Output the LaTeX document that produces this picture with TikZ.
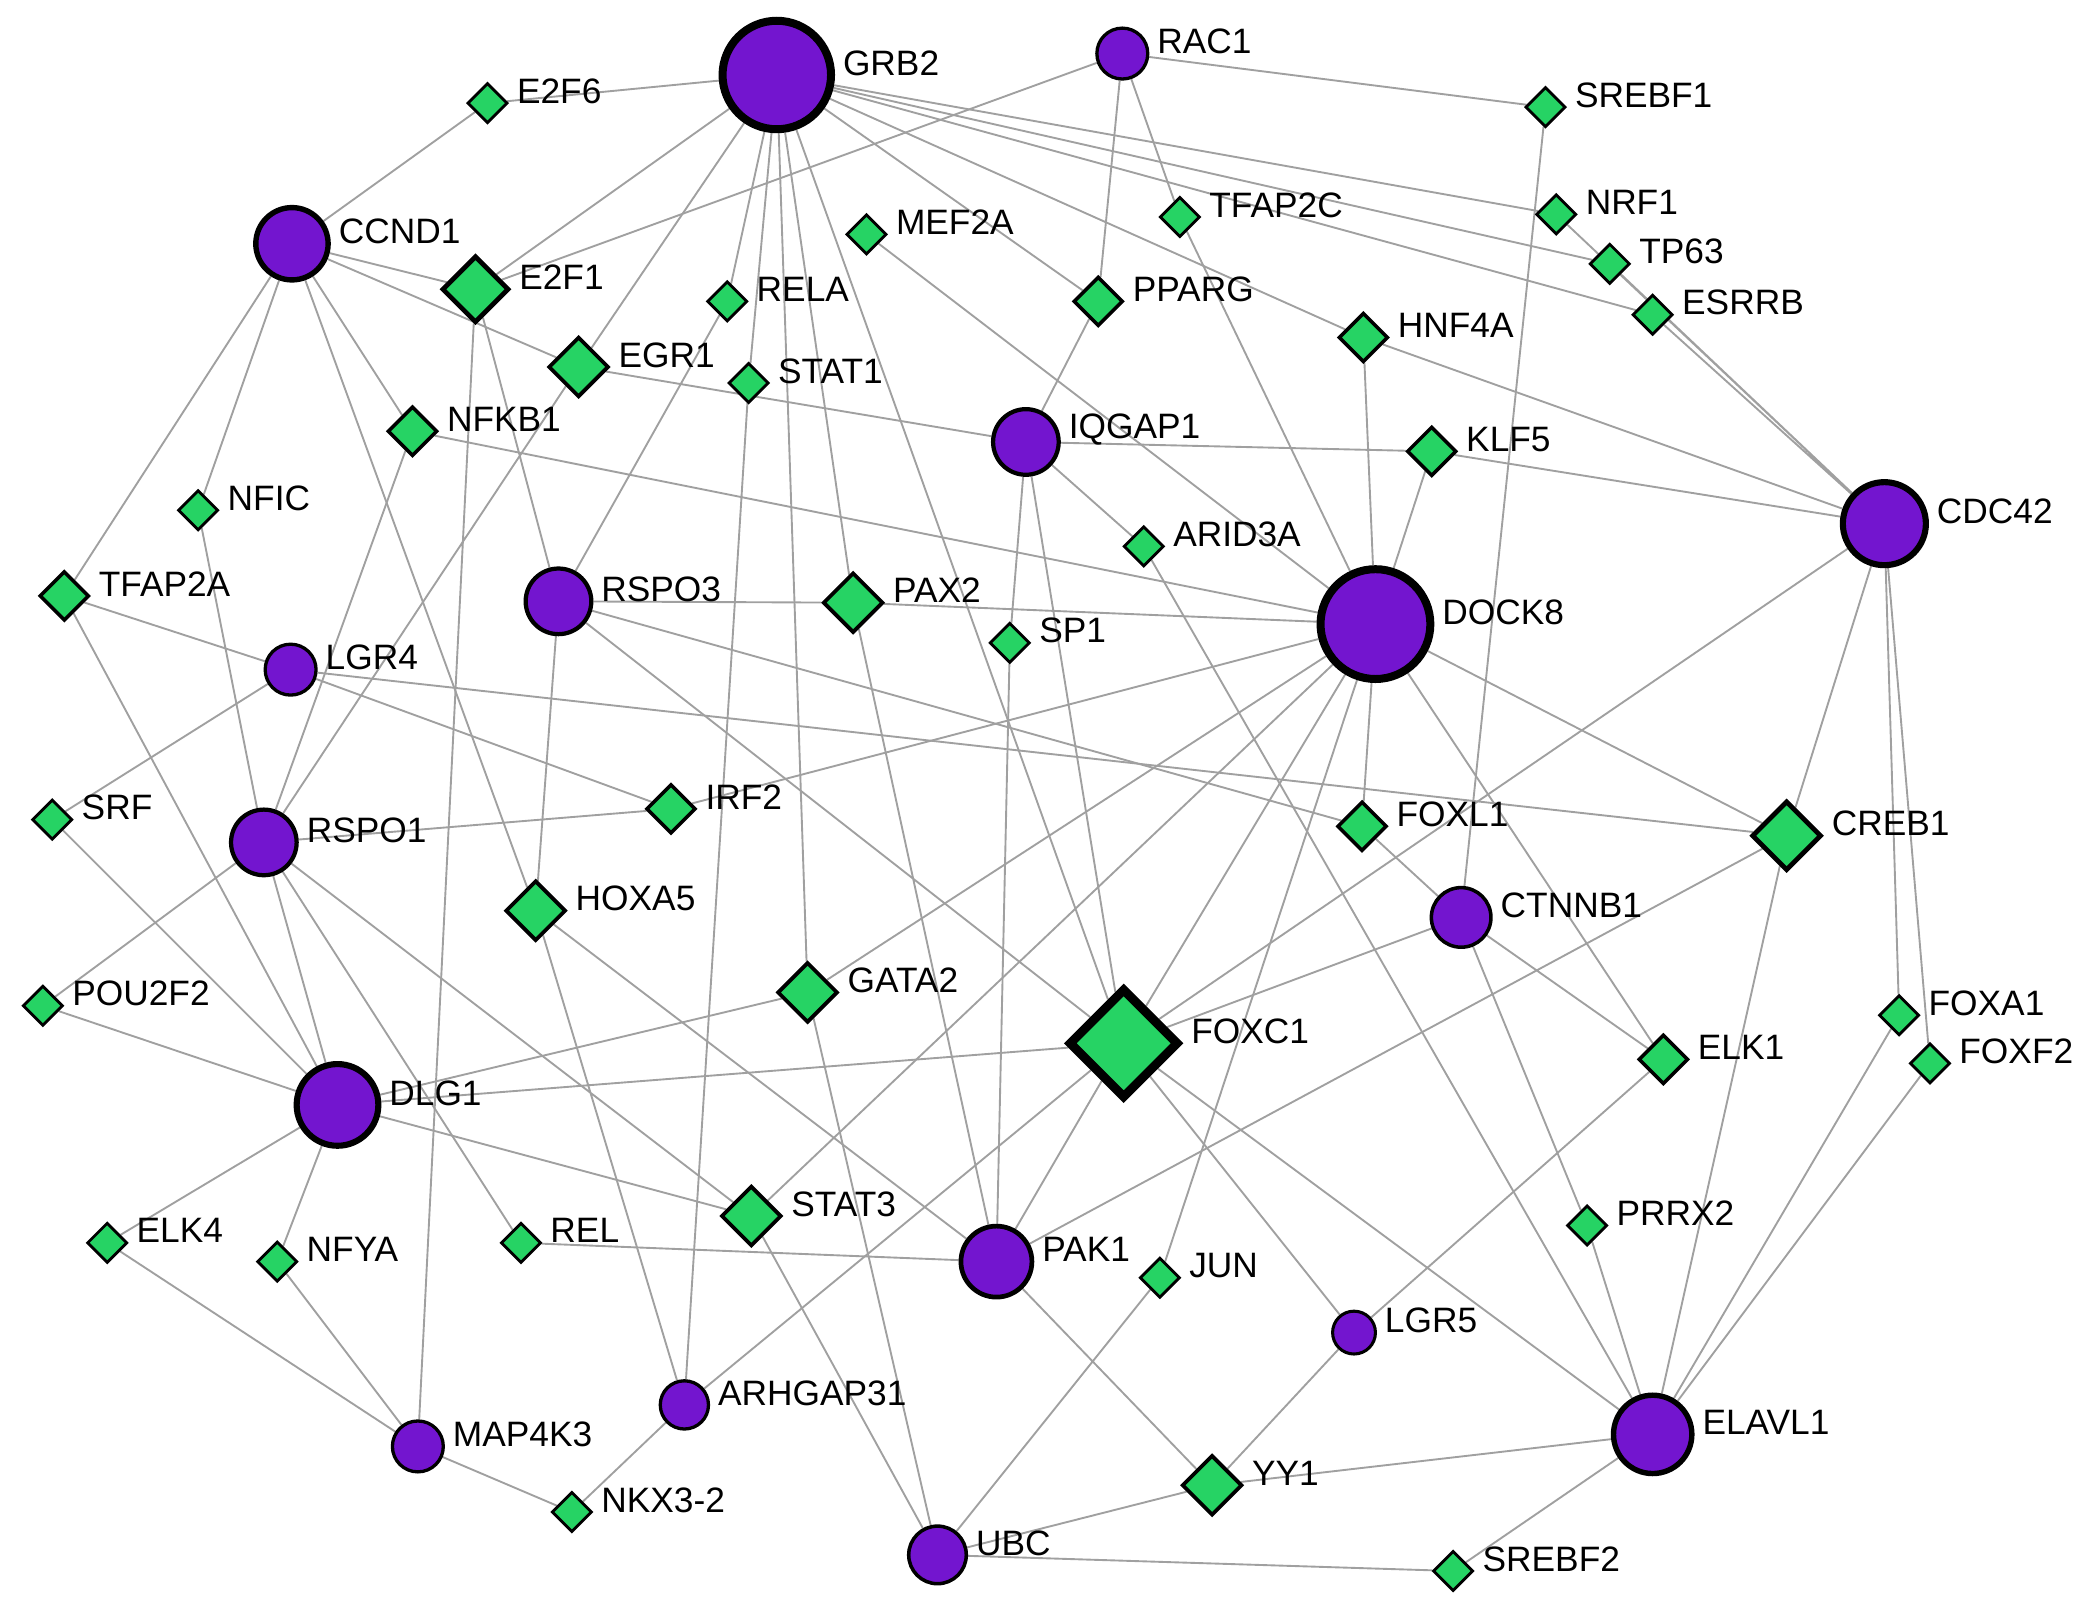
\documentclass[tikz,border=0pt]{standalone}
\usepackage{fontspec}
\setmainfont{Liberation Sans}
\usepackage{tikz}
\usetikzlibrary{shapes.geometric, backgrounds}
\definecolor{GenePurple}{HTML}{7315CF}
\definecolor{TFGreen}{HTML}{26D364}
\definecolor{EdgeGray}{HTML}{A0A0A0}

\begin{document}
\begin{tikzpicture}[x=0.1mm, y=-0.1mm,
    gene/.style={circle, draw=black, fill=GenePurple, inner sep=0pt},
    tf/.style={diamond, aspect=1, draw=black, fill=TFGreen, inner sep=0pt},
    smalltf/.style={tf, minimum size=3.0mm, line width=0.6pt},
    midtf/.style={tf, minimum size=3.7mm, line width=0.75pt},
    bigtf/.style={tf, minimum size=4.5mm, line width=0.8pt},
    lbl/.style={font=\fontsize{7.5}{9}\selectfont, inner sep=0.5pt, yshift=0.9mm},
    link/.style={draw=EdgeGray, line width=0.4pt},
    label distance=1pt]
    \useasboundingbox (0,0) rectangle (1568,1200);

    % Genes
    \node[gene, minimum size=8.1mm, line width=1.7pt, label={[lbl]east:GRB2}] (GRB2) at (580,56) {};
    \node[gene, minimum size=3.8mm, line width=0.7pt, label={[lbl]east:RAC1}] (RAC1) at (838,40) {};
    \node[gene, minimum size=5.4mm, line width=1.15pt, label={[lbl]east:CCND1}] (CCND1) at (218,182) {};
    \node[gene, minimum size=4.9mm, line width=0.9pt, label={[lbl]east:IQGAP1}] (IQGAP1) at (766,330) {};
    \node[gene, minimum size=6.2mm, line width=1.3pt, label={[lbl]east:CDC42}] (CDC42) at (1407,391) {};
    \node[gene, minimum size=8.2mm, line width=1.7pt, label={[lbl]east:DOCK8}] (DOCK8) at (1027,466) {};
    \node[gene, minimum size=4.9mm, line width=0.9pt, label={[lbl]east:RSPO3}] (RSPO3) at (417,449) {};
    \node[gene, minimum size=3.8mm, line width=0.7pt, label={[lbl]east:LGR4}] (LGR4) at (217,500) {};
    \node[gene, minimum size=4.9mm, line width=0.9pt, label={[lbl]east:RSPO1}] (RSPO1) at (197,629) {};
    \node[gene, minimum size=4.45mm, line width=0.75pt, label={[lbl]east:CTNNB1}] (CTNNB1) at (1091,685) {};
    \node[gene, minimum size=6.1mm, line width=1.3pt, label={[lbl]east:DLG1}] (DLG1) at (252,825) {};
    \node[gene, minimum size=5.3mm, line width=1pt, label={[lbl]east:PAK1}] (PAK1) at (744,942) {};
    \node[gene, minimum size=3.2mm, line width=0.65pt, label={[lbl]east:LGR5}] (LGR5) at (1011,995) {};
    \node[gene, minimum size=3.6mm, line width=0.7pt, label={[lbl]east:ARHGAP31}] (ARHGAP31) at (511,1049) {};
    \node[gene, minimum size=5.85mm, line width=1.15pt, label={[lbl]east:ELAVL1}] (ELAVL1) at (1234,1071) {};
    \node[gene, minimum size=3.8mm, line width=0.7pt, label={[lbl]east:MAP4K3}] (MAP4K3) at (312,1080) {};
    \node[gene, minimum size=4.3mm, line width=0.75pt, label={[lbl]east:UBC}] (UBC) at (700,1161) {};

    % Transcription factors
    \node[smalltf, label={[lbl]east:E2F6}] (E2F6) at (364,77) {};
    \node[smalltf, label={[lbl]east:SREBF1}] (SREBF1) at (1154,80) {};
    \node[smalltf, label={[lbl]east:TFAP2C}] (TFAP2C) at (881,162) {};
    \node[smalltf, label={[lbl]east:NRF1}] (NRF1) at (1162,160) {};
    \node[smalltf, label={[lbl]east:TP63}] (TP63) at (1202,197) {};
    \node[smalltf, label={[lbl]east:MEF2A}] (MEF2A) at (647,175) {};
    \node[smalltf, label={[lbl]east:RELA}] (RELA) at (543,225) {};
    \node[smalltf, label={[lbl]east:ESRRB}] (ESRRB) at (1234,235) {};
    \node[smalltf, label={[lbl]east:STAT1}] (STAT1) at (559,286) {};
    \node[smalltf, label={[lbl]east:NFIC}] (NFIC) at (148,381) {};
    \node[smalltf, label={[lbl]east:ARID3A}] (ARID3A) at (854,408) {};
    \node[smalltf, label={[lbl]east:SP1}] (SP1) at (754,480) {};
    \node[smalltf, label={[lbl]east:SRF}] (SRF) at (39,612) {};
    \node[smalltf, label={[lbl]east:POU2F2}] (POU2F2) at (32,751) {};
    \node[smalltf, label={[lbl]east:FOXA1}] (FOXA1) at (1418,758) {};
    \node[smalltf, label={[lbl]east:FOXF2}] (FOXF2) at (1441,794) {};
    \node[smalltf, label={[lbl]east:PRRX2}] (PRRX2) at (1185,915) {};
    \node[smalltf, label={[lbl]east:ELK4}] (ELK4) at (80,928) {};
    \node[smalltf, label={[lbl]east:REL}] (REL) at (389,928) {};
    \node[smalltf, label={[lbl]east:NFYA}] (NFYA) at (207,942) {};
    \node[smalltf, label={[lbl]east:JUN}] (JUN) at (866,954) {};
    \node[smalltf, label={[lbl]east:NKX3-2}] (NKX32) at (427,1129) {};
    \node[smalltf, label={[lbl]east:SREBF2}] (SREBF2) at (1085,1173) {};

    \node[midtf, label={[lbl]east:NFKB1}] (NFKB1) at (308,322) {};
    \node[midtf, label={[lbl]east:PPARG}] (PPARG) at (820,225) {};
    \node[midtf, label={[lbl]east:HNF4A}] (HNF4A) at (1018,252) {};
    \node[midtf, label={[lbl]east:KLF5}] (KLF5) at (1069,337) {};
    \node[midtf, label={[lbl]east:TFAP2A}] (TFAP2A) at (48,445) {};
    \node[midtf, label={[lbl]east:IRF2}] (IRF2) at (501,604) {};
    \node[midtf, label={[lbl]east:FOXL1}] (FOXL1) at (1017,617) {};
    \node[midtf, label={[lbl]east:ELK1}] (ELK1) at (1242,791) {};

    \node[bigtf, label={[lbl]east:EGR1}] (EGR1) at (432,274) {};
    \node[bigtf, label={[lbl]east:PAX2}] (PAX2) at (637,450) {};
    \node[bigtf, label={[lbl]east:HOXA5}] (HOXA5) at (400,680) {};
    \node[bigtf, label={[lbl]east:GATA2}] (GATA2) at (603,741) {};
    \node[bigtf, label={[lbl]east:STAT3}] (STAT3) at (561,908) {};
    \node[bigtf, label={[lbl]east:YY1}] (YY1) at (905,1109) {};

    \node[tf, minimum size=5.0mm, line width=1pt, label={[lbl]east:E2F1}] (E2F1) at (355,216) {};
    \node[tf, minimum size=5.2mm, line width=1pt, label={[lbl]east:CREB1}] (CREB1) at (1334,624) {};
    \node[tf, minimum size=8.25mm, line width=1.9pt, label={[lbl]east:FOXC1}] (FOXC1) at (839,779) {};

    % Interactions
    \begin{pgfonlayer}{background}
    \draw[link] (GRB2) -- (E2F6) (GRB2) -- (E2F1) (GRB2) -- (EGR1) (GRB2) -- (RELA)
        (GRB2) -- (STAT1) (GRB2) -- (GATA2) (GRB2) -- (PAX2) (GRB2) -- (FOXC1)
        (GRB2) -- (PPARG) (GRB2) -- (HNF4A) (GRB2) -- (NRF1) (GRB2) -- (TP63) (GRB2) -- (ESRRB);
    \draw[link] (RAC1) -- (SREBF1) (RAC1) -- (E2F1) (RAC1) -- (PPARG) (RAC1) -- (TFAP2C)
        (TFAP2C) -- (DOCK8) (SREBF1) -- (CTNNB1);
    \draw[link] (CDC42) -- (NRF1) (CDC42) -- (TP63) (CDC42) -- (ESRRB) (CDC42) -- (HNF4A)
        (CDC42) -- (KLF5) (CDC42) -- (FOXC1) (CDC42) -- (CREB1) (CDC42) -- (FOXA1) (CDC42) -- (FOXF2);
    \draw[link] (CCND1) -- (E2F6) (CCND1) -- (E2F1) (CCND1) -- (EGR1) (CCND1) -- (TFAP2A)
        (CCND1) -- (NFIC) (CCND1) -- (HOXA5) (CCND1) -- (NFKB1);
    \draw[link] (E2F1) -- (RSPO3) (E2F1) -- (MAP4K3) (RELA) -- (RSPO3) (EGR1) -- (IQGAP1)
        (EGR1) -- (RSPO1) (STAT1) -- (ARHGAP31) (NFKB1) -- (RSPO1) (NFKB1) -- (DOCK8)
        (NFIC) -- (RSPO1) (MEF2A) -- (DOCK8);
    \draw[link] (IQGAP1) -- (PPARG) (IQGAP1) -- (KLF5) (IQGAP1) -- (ARID3A) (IQGAP1) -- (SP1)
        (IQGAP1) -- (FOXC1) (ARID3A) -- (ELAVL1) (KLF5) -- (DOCK8) (HNF4A) -- (DOCK8);
    \draw[link] (DOCK8) -- (PAX2) (DOCK8) -- (IRF2) (DOCK8) -- (GATA2) (DOCK8) -- (STAT3)
        (DOCK8) -- (FOXC1) (DOCK8) -- (JUN) (DOCK8) -- (FOXL1) (DOCK8) -- (CREB1) (DOCK8) -- (ELK1);
    \draw[link] (RSPO3) -- (PAX2) (RSPO3) -- (HOXA5) (RSPO3) -- (FOXL1) (RSPO3) -- (FOXC1)
        (PAX2) -- (PAK1) (SP1) -- (PAK1);
    \draw[link] (TFAP2A) -- (LGR4) (TFAP2A) -- (DLG1) (LGR4) -- (SRF) (LGR4) -- (IRF2)
        (LGR4) -- (CREB1) (SRF) -- (DLG1);
    \draw[link] (RSPO1) -- (IRF2) (RSPO1) -- (POU2F2) (RSPO1) -- (DLG1) (RSPO1) -- (REL)
        (RSPO1) -- (STAT3) (POU2F2) -- (DLG1) (HOXA5) -- (PAK1) (HOXA5) -- (ARHGAP31);
    \draw[link] (FOXL1) -- (CTNNB1) (CTNNB1) -- (FOXC1) (CTNNB1) -- (PRRX2) (CTNNB1) -- (ELK1)
        (CREB1) -- (PAK1) (CREB1) -- (ELAVL1) (FOXA1) -- (ELAVL1) (FOXF2) -- (ELAVL1) (PRRX2) -- (ELAVL1);
    \draw[link] (FOXC1) -- (DLG1) (FOXC1) -- (PAK1) (FOXC1) -- (ARHGAP31) (FOXC1) -- (LGR5)
        (FOXC1) -- (ELAVL1) (ELK1) -- (LGR5);
    \draw[link] (DLG1) -- (GATA2) (DLG1) -- (STAT3) (DLG1) -- (ELK4) (DLG1) -- (NFYA)
        (GATA2) -- (UBC) (STAT3) -- (UBC);
    \draw[link] (ELK4) -- (MAP4K3) (NFYA) -- (MAP4K3) (MAP4K3) -- (NKX32) (NKX32) -- (ARHGAP31)
        (REL) -- (PAK1) (PAK1) -- (YY1) (JUN) -- (UBC) (LGR5) -- (YY1) (YY1) -- (UBC)
        (YY1) -- (ELAVL1) (UBC) -- (SREBF2) (SREBF2) -- (ELAVL1);
    \end{pgfonlayer}
\end{tikzpicture}
\end{document}
